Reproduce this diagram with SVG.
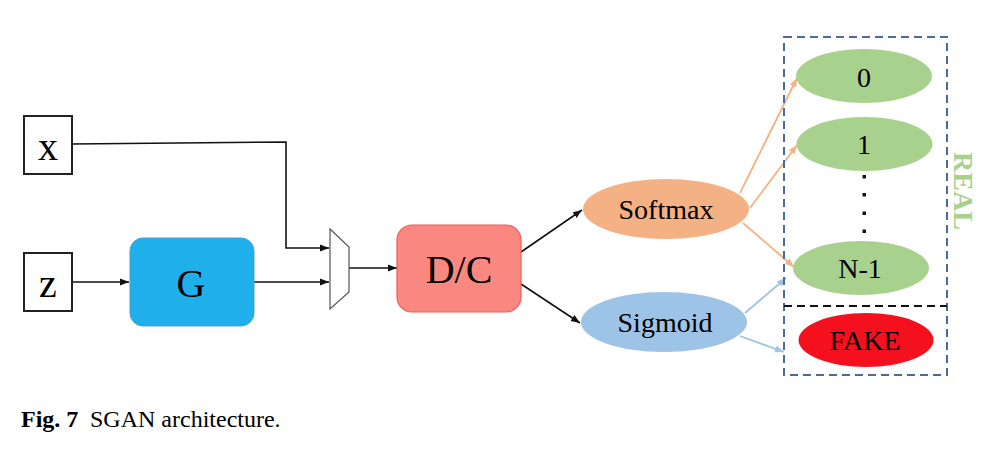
<svg xmlns="http://www.w3.org/2000/svg" width="1006" height="450" viewBox="0 0 1006 450">
<style>
text{font-family:"Liberation Serif","Times New Roman",serif;fill:#000}
.box{fill:#fff;stroke:#222;stroke-width:2}
.ln{fill:none;stroke:#111;stroke-width:1.6}
.or{fill:none;stroke:#f4b183;stroke-width:1.8}
.bl{fill:none;stroke:#9dc3e6;stroke-width:1.8}
.big{font-size:40px;text-anchor:middle}
.mid{font-size:28px;text-anchor:middle}
.green{fill:#a9d18e}
</style>
<defs>
<marker id="ab" markerUnits="userSpaceOnUse" markerWidth="10" markerHeight="8" refX="9" refY="4" orient="auto"><path d="M0,0.5 L9,4 L0,7.5 Z" fill="#111"/></marker>
<marker id="ao" markerUnits="userSpaceOnUse" markerWidth="10" markerHeight="8" refX="9" refY="4" orient="auto"><path d="M0,0.5 L9,4 L0,7.5 Z" fill="#f4b183"/></marker>
<marker id="abl" markerUnits="userSpaceOnUse" markerWidth="10" markerHeight="8" refX="9" refY="4" orient="auto"><path d="M0,0.5 L9,4 L0,7.5 Z" fill="#9dc3e6"/></marker>
</defs>
<rect width="1006" height="450" fill="#fff"/>
<g id="connectors">
<polyline class="ln" points="72,144 286,142 286,248 329,248" marker-end="url(#ab)"/>
<line class="ln" x1="72" y1="282" x2="129" y2="282" marker-end="url(#ab)"/>
<line class="ln" x1="254" y1="282" x2="329" y2="282" marker-end="url(#ab)"/>
<line class="ln" x1="349" y1="268" x2="397" y2="268" marker-end="url(#ab)"/>
<line class="ln" x1="521" y1="252" x2="582" y2="210" marker-end="url(#ab)"/>
<line class="ln" x1="521" y1="284" x2="580" y2="323" marker-end="url(#ab)"/>
<line class="or" x1="740" y1="193" x2="797" y2="78" marker-end="url(#ao)"/>
<line class="or" x1="750" y1="208" x2="797" y2="145" marker-end="url(#ao)"/>
<line class="or" x1="743" y1="223" x2="794" y2="267" marker-end="url(#ao)"/>
<line class="bl" x1="745" y1="313" x2="786" y2="278" marker-end="url(#abl)"/>
<line class="bl" x1="740" y1="336" x2="784" y2="352" marker-end="url(#abl)"/>
</g>
<g id="x">
<rect class="box" x="24" y="116" width="48" height="58"/>
<text class="big" x="48" y="160">x</text>
</g>
<g id="z">
<rect class="box" x="24" y="253" width="48" height="58"/>
<text class="big" x="48" y="297">z</text>
</g>
<g id="G">
<rect x="130" y="238" width="124" height="88" rx="13" fill="#1fb0ec" stroke="#4a9fd0" stroke-width="1"/>
<text class="big" x="191" y="297">G</text>
</g>
<g id="mux">
<polygon points="330,229 349,247 349,292 330,309" fill="#fff" stroke="#555" stroke-width="1.2"/>
</g>
<g id="DC">
<rect x="397" y="225" width="124" height="87" rx="15" fill="#fb8880" stroke="#f05a5a" stroke-width="1.2"/>
<text class="big" x="459" y="283">D/C</text>
</g>
<g id="softmax">
<ellipse cx="666" cy="209" rx="83" ry="30" fill="#f4b183"/>
<text class="mid" x="666" y="219">Softmax</text>
</g>
<g id="sigmoid">
<ellipse cx="664" cy="322" rx="83" ry="30" fill="#9dc3e6"/>
<text class="mid" x="665" y="332">Sigmoid</text>
</g>
<g id="outputs">
<rect x="784" y="37" width="163" height="338" fill="none" stroke="#4a6b9c" stroke-width="2" stroke-dasharray="8,5"/>
<line x1="784" y1="306" x2="947" y2="306" stroke="#111" stroke-width="2" stroke-dasharray="8,5"/>
<text x="0" y="0" transform="translate(954,191) rotate(90)" font-size="28" font-weight="bold" text-anchor="middle" style="fill:#a9d18e">REAL</text>
</g>
<g id="c0">
<ellipse class="green" cx="864" cy="76" rx="68" ry="27"/>
<text class="mid" x="864" y="87">0</text>
</g>
<g id="c1">
<ellipse class="green" cx="864.5" cy="144" rx="68" ry="27"/>
<text class="mid" x="864" y="154">1</text>
</g>
<g id="dots" fill="#111">
<rect x="862.5" y="175" width="3.5" height="3.5"/>
<rect x="862.5" y="193" width="3.5" height="3.5"/>
<rect x="862.5" y="211.5" width="3.5" height="3.5"/>
<rect x="862.5" y="229.5" width="3.5" height="3.5"/>
</g>
<g id="cN">
<ellipse class="green" cx="861" cy="268" rx="68" ry="27"/>
<text class="mid" x="860" y="278">N-1</text>
</g>
<g id="fake">
<ellipse cx="866" cy="340" rx="67.5" ry="27" fill="#f5101e"/>
<text class="mid" x="865" y="350">FAKE</text>
</g>
<g id="caption">
<text x="21" y="427" font-size="24"><tspan font-weight="bold">Fig. 7</tspan><tspan x="90">SGAN architecture.</tspan></text>
</g>
</svg>
